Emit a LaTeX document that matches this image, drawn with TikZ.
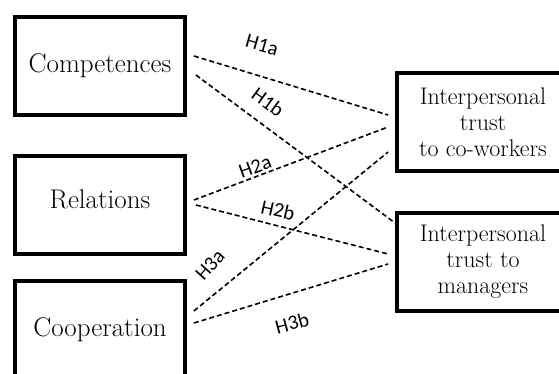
\documentclass[tikz,border=0pt]{standalone}
\usepackage{fontspec}
\newfontfamily\hfont{Carlito}
\begin{document}
\begin{tikzpicture}[x=1pt,y=-1pt,
  lbox/.style={draw,line width=3.8pt,minimum width=170pt,minimum height=98pt,inner sep=0pt,font=\fontsize{27}{30}\selectfont},
  rbox/.style={draw,line width=3.8pt,minimum width=172pt,minimum height=98pt,inner sep=0pt,align=center,font=\fontsize{24}{26}\selectfont},
  hyp/.style={dash pattern=on 5pt off 3pt,line width=1.6pt},
  hlab/.style={font=\hfont\fontsize{20.5}{22}\selectfont,inner sep=0pt}]
\useasboundingbox (0,0) rectangle (559,374);
\clip (0,0) rectangle (559,374);
\node[lbox] (comp) at (100,66) {Competences};
\node[lbox,text depth=12pt] (rel) at (100,205) {Relations};
\node[lbox] (coop) at (100,330) {Cooperation};
\node[rbox] (cow) at (483,122) {Interpersonal\\trust\\to co-workers};
\node[rbox] (man) at (483,262) {Interpersonal\\trust to\\managers};
% connectors
\draw[hyp] ([xshift=7pt,yshift=10pt]comp.east) -- ([xshift=-7pt,yshift=7pt]cow.west);
\draw[hyp] ([xshift=9pt,yshift=-9pt]comp.east) -- ([xshift=0pt,yshift=39pt]man.west);
\draw[hyp] ([xshift=7pt,yshift=5pt]rel.east) -- ([xshift=-7pt,yshift=-5pt]cow.west);
\draw[hyp] ([xshift=9pt,yshift=0pt]rel.east) -- ([xshift=-7pt,yshift=8pt]man.west);
\draw[hyp] ([xshift=7pt,yshift=19pt]coop.east) -- ([xshift=-7pt,yshift=-30pt]cow.west);
\draw[hyp] ([xshift=7pt,yshift=7pt]coop.east) -- ([xshift=-7pt,yshift=-2pt]man.west);
% labels
\node[hlab,rotate=-16] (l1a) at (262,45) {H1a};
\node[hlab,rotate=-36] (l1b) at (268,102) {H1b};
\node[hlab,rotate=20] (l2a) at (255,167) {H2a};
\node[hlab,rotate=-13] (l2b) at (278,210) {H2b};
\node[hlab,rotate=48] (l3a) at (210,265) {H3a};
\node[hlab,rotate=15] (l3b) at (292,323) {H3b};
\end{tikzpicture}
\end{document}
